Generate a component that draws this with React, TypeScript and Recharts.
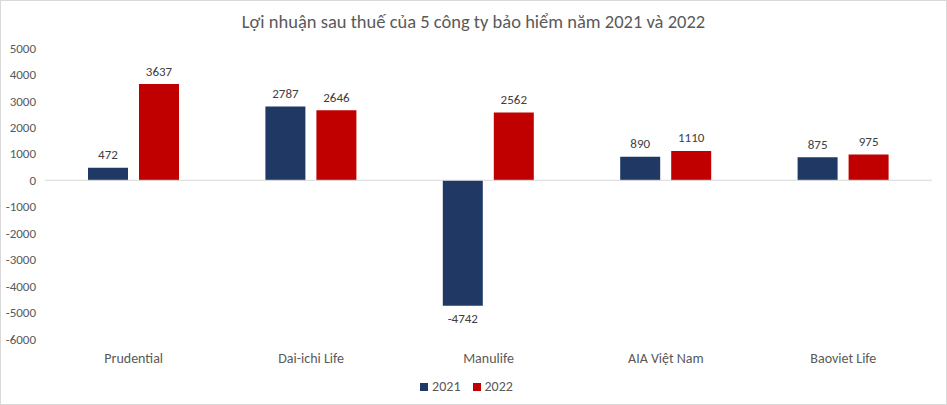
import React from 'react';
import { BarChart, Bar, XAxis, YAxis, ReferenceLine, Legend, LabelList } from 'recharts';

const categories = ['Prudential', 'Dai-ichi Life', 'Manulife', 'AIA Việt Nam', 'Baoviet Life'];
const values2021 = [472, 2787, -4742, 890, 875];
const values2022 = [3637, 2646, 2562, 1110, 975];
const yTicks = [-6000, -5000, -4000, -3000, -2000, -1000, 0, 1000, 2000, 3000, 4000, 5000];

const data = categories.map((name, i) => ({ name, y2021: values2021[i], y2022: values2022[i] }));

const FONT = "Carlito, 'Liberation Sans Narrow', 'DejaVu Sans Condensed', 'Open Sans', sans-serif";
const C2021 = '#1F3864';
const C2022 = '#C00000';

const ValueLabel = (props: any) => {
  const { x, y, width, height, value } = props;
  const top = Math.min(y, y + height);
  const bottom = Math.max(y, y + height);
  const cx = x + width / 2;
  const ty = value >= 0 ? top - 13 : bottom + 13;
  return (
    <text x={cx} y={ty} textAnchor="middle" dominantBaseline="central" fill="#404040" fontSize={13} fontFamily={FONT}>
      {value}
    </text>
  );
};

const LegendContent = () => (
  <div style={{ display: 'flex', justifyContent: 'center', height: 37, paddingTop: 2, boxSizing: 'border-box', fontFamily: FONT, fontSize: 14, color: '#595959' }}>
    {[['2021', C2021], ['2022', C2022]].map(([label, color]) => (
      <div key={label} style={{ display: 'flex', alignItems: 'center', margin: '0 6px' }}>
        <span style={{ display: 'inline-block', width: 8, height: 8, background: color, marginRight: 4 }} />
        <span>{label}</span>
      </div>
    ))}
  </div>
);

export default function App() {
  return (
    <div style={{ position: 'absolute', left: 0, top: 0, width: 947, height: 405, boxSizing: 'border-box', border: '1px solid #d9d9d9', background: '#fff' }}>
      <div style={{ position: 'absolute', left: 0, top: 9, width: 945, textAlign: 'center', fontFamily: FONT, fontSize: 18.5, color: '#595959' }}>
        Lợi nhuận sau thuế của 5 công ty bảo hiểm năm 2021 và 2022
      </div>
      <BarChart width={945} height={403} data={data} margin={{ top: 47, right: 14, left: 0, bottom: 0 }} barGap={11} barSize={40}>
        <XAxis dataKey="name" axisLine={false} tickLine={false} height={28} tickMargin={8} tick={{ fill: '#595959', fontSize: 14, fontFamily: FONT }} interval={0} />
        <YAxis domain={[-6000, 5000]} ticks={yTicks} axisLine={false} tickLine={false} width={44} tickMargin={3} tick={{ fill: '#595959', fontSize: 13, fontFamily: FONT }} interval={0} />
        <ReferenceLine y={0} stroke="#d9d9d9" strokeWidth={1} />
        <Legend verticalAlign="bottom" content={<LegendContent />} />
        <Bar dataKey="y2021" name="2021" fill={C2021} isAnimationActive={false}>
          <LabelList dataKey="y2021" content={<ValueLabel />} />
        </Bar>
        <Bar dataKey="y2022" name="2022" fill={C2022} isAnimationActive={false}>
          <LabelList dataKey="y2022" content={<ValueLabel />} />
        </Bar>
      </BarChart>
    </div>
  );
}
